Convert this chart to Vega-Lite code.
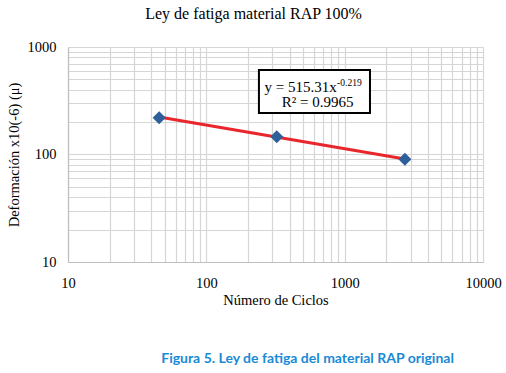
{
  "$schema": "https://vega.github.io/schema/vega-lite/v6.json",
  "background": "white",
  "padding": {"left": 6, "top": 6, "right": 5, "bottom": 5},
  "config": {"view": {"stroke": null}, "font": "Liberation Serif", "concat": {"spacing": 0}},
  "title": {"text": "Figura 5. Ley de fatiga del material RAP original", "orient": "bottom", "anchor": "middle", "font": "Lato, sans-serif", "fontSize": 14, "fontWeight": "bold", "color": "#1A8AD4", "offset": 45, "dx": 54},
  "vconcat": [
    {
      "width": 415,
      "height": 215,
      "title": {"text": "Ley de fatiga material RAP 100%", "font": "Liberation Serif", "fontSize": 16, "fontWeight": "normal", "color": "#000000", "frame": "bounds", "anchor": "middle", "offset": 17},
      "encoding": {
        "x": {
          "field": "x", "type": "quantitative",
          "scale": {"type": "log", "domain": [10, 10000], "nice": false},
          "axis": {
            "title": "Número de Ciclos",
            "values": [10,20,30,40,50,60,70,80,90,100,200,300,400,500,600,700,800,900,1000,2000,3000,4000,5000,6000,7000,8000,9000,10000],
            "format": "d",
            "labelExpr": "indexof([10,100,1000,10000], datum.value) >= 0 ? datum.label : ''",
            "ticks": false, "grid": true, "gridColor": "#D6D6D6", "gridWidth": 1.2,
            "domainColor": "#BFBFBF", "domainWidth": 1.2, "labelFont": "Liberation Serif", "labelFontSize": 14.5, "labelColor": "#000000",
            "titleFont": "Liberation Serif", "titleFontSize": 14.5, "titleFontWeight": "normal", "titleColor": "#000000",
            "labelPadding": 14, "titlePadding": 4, "labelFlush": false, "labelOverlap": false
          }
        },
        "y": {
          "field": "y", "type": "quantitative",
          "scale": {"type": "log", "domain": [10, 1000], "nice": false},
          "axis": {
            "title": "Deformación x10(-6) (μ)",
            "values": [10,20,30,40,50,60,70,80,90,100,200,300,400,500,600,700,800,900,1000],
            "format": "d",
            "labelExpr": "indexof([10,100,1000], datum.value) >= 0 ? datum.label : ''",
            "ticks": false, "grid": true, "gridColor": "#D6D6D6", "gridWidth": 1.2,
            "domainColor": "#BFBFBF", "domainWidth": 1.2, "labelFont": "Liberation Serif", "labelFontSize": 14.5, "labelColor": "#000000",
            "titleFont": "Liberation Serif", "titleFontSize": 14.5, "titleFontWeight": "normal", "titleColor": "#000000",
            "labelPadding": 12, "titlePadding": 6, "labelOverlap": false
          }
        }
      },
      "layer": [
        {
          "data": {"values": [{"x": 45.6, "y": 223.3}, {"x": 2725, "y": 91.0}]},
          "mark": {"type": "line", "color": "#E8262C", "strokeWidth": 3}
        },
        {
          "data": {"values": [{"x": 45.6, "y": 220}, {"x": 323, "y": 146.5}, {"x": 2725, "y": 90.2}]},
          "mark": {"type": "point", "shape": "diamond", "filled": true, "size": 170, "color": "#2F5F98", "opacity": 1}
        },
        {
          "data": {"values": [{"x": 240, "x2": 1524, "y": 243, "y2": 611}]},
          "mark": {"type": "rect", "fill": "white", "stroke": "black", "strokeWidth": 2},
          "encoding": {"x2": {"field": "x2"}, "y2": {"field": "y2"}}
        },
        {
          "data": {"values": [{"x": 875, "y": 425, "t": "y = 515.31x"}]},
          "mark": {"type": "text", "font": "Liberation Serif", "fontSize": 15, "color": "black", "baseline": "middle", "align": "right"},
          "encoding": {"text": {"field": "t"}}
        },
        {
          "data": {"values": [{"x": 637, "y": 311, "t": "R² = 0.9965"}]},
          "mark": {"type": "text", "font": "Liberation Serif", "fontSize": 15, "color": "black", "baseline": "middle", "align": "center"},
          "encoding": {"text": {"field": "t"}}
        },
        {
          "data": {"values": [{"x": 882, "y": 465, "t": "-0.219"}]},
          "mark": {"type": "text", "font": "Liberation Serif", "fontSize": 9.5, "color": "black", "baseline": "middle", "align": "left"},
          "encoding": {"text": {"field": "t"}}
        }
      ]
    }
  ]
}
